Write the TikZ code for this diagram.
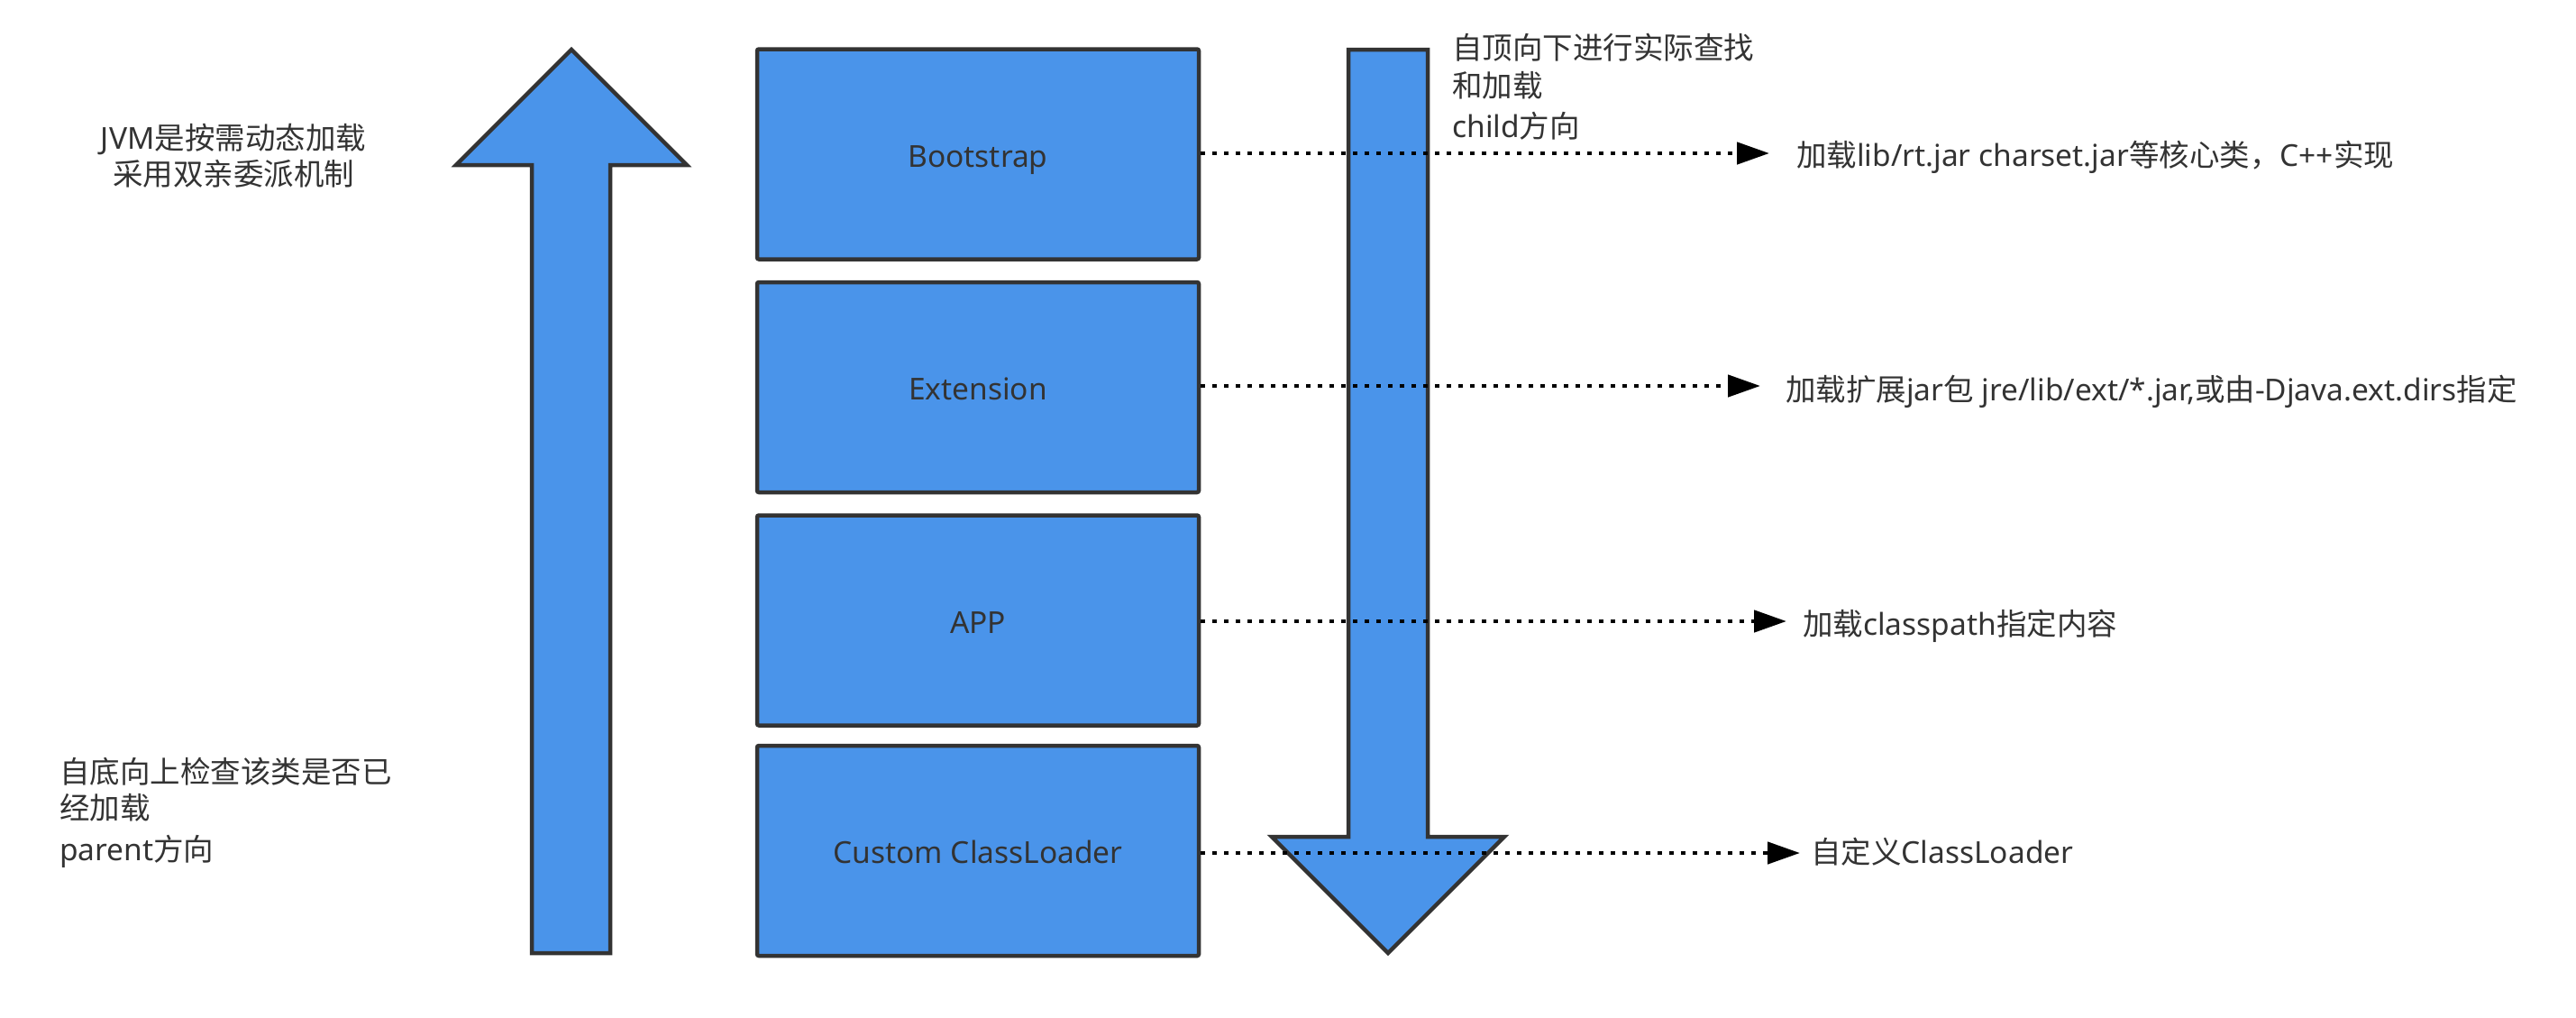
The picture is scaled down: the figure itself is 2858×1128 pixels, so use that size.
\documentclass[tikz,border=0pt]{standalone}
\usepackage{fontspec}
\setmainfont{Noto Sans}
\newfontfamily\cjk{Noto Sans CJK SC}
\usetikzlibrary{arrows.meta}
\definecolor{boxblue}{HTML}{4A94EA}
\definecolor{edgegray}{HTML}{333333}
\begin{document}
\begin{tikzpicture}[x=1pt,y=-1pt,
  loader/.style={draw=edgegray, fill=boxblue, line width=4.5pt, rounded corners=2pt,
    minimum width=490pt, minimum height=233pt, inner sep=0pt,
    text height=34pt, text depth=6pt,
    font=\fontsize{33.5}{40}\selectfont, text=edgegray},
  bigarrow/.style={draw=edgegray, fill=boxblue, line width=4.5pt, line join=miter},
  note/.style={inner sep=0pt, anchor=base west, font=\fontsize{33.5}{40}\selectfont, text=edgegray},
  link/.style={draw=black, line width=4.6pt, dash pattern=on 4.6pt off 8.4pt,
    -{Triangle[length=36pt,width=24pt]}}]
\fill[white] (0,0) rectangle (2858,1128);
\useasboundingbox (0,0) rectangle (2858,1128);

% up arrow (parent direction)
\draw[bigarrow] (634,55) -- (762,183) -- (677,183) -- (677,1057) -- (590,1057)
  -- (590,183) -- (506,183) -- cycle;
% down arrow (child direction)
\draw[bigarrow] (1540,1057) -- (1669,928) -- (1584,928) -- (1584,55) -- (1496,55)
  -- (1496,928) -- (1411,928) -- cycle;

% loader boxes
\node[loader] (boot) at (1085,171) {Bootstrap};
\node[loader] (ext)  at (1085,429.5) {Extension};
\node[loader] (app)  at (1085,688) {APP};
\node[loader] (cust) at (1085,943.5) {Custom ClassLoader};

% side notes
\node[note, anchor=base] (jvm1) at (259,165) {JVM{\cjk 是按需动态加载}};
\node[note, anchor=base] (jvm2) at (259,205) {\cjk 采用双亲委派机制};

\node[note] (up1) at (66,868) {\cjk 自底向上检查该类是否已};
\node[note] (up2) at (66,908) {\cjk 经加载};
\node[note] (up3) at (66,954) {parent{\cjk 方向}};

\node[note] (dn1) at (1611,65) {\cjk 自顶向下进行实际查找};
\node[note] (dn2) at (1611,107) {\cjk 和加载};
\node[note] (dn3) at (1611,152) {child{\cjk 方向}};

% descriptions
\node[note] (d1) at (1993,184.5) {{\cjk 加载}lib/rt.jar charset.jar{\cjk 等核心类，}C++{\cjk 实现}};
\node[note] (d2) at (1981,444) {{\cjk 加载扩展}jar{\cjk 包} jre/lib/ext/*.jar,{\cjk 或由}-Djava.ext.dirs{\cjk 指定}};
\node[note] (d3) at (2000,704) {{\cjk 加载}classpath{\cjk 指定内容}};
\node[note] (d4) at (2009,957.5) {{\cjk 自定义}ClassLoader};

% dotted connectors
\draw[link, shorten >=30pt] ([yshift=1pt]boot.east) -- ([yshift=1pt]boot.east -| d1.west);
\draw[link, shorten >=28pt] ([yshift=1.5pt]ext.east) -- ([yshift=1.5pt]ext.east -| d2.west);
\draw[link, shorten >=18pt] ([yshift=-1pt]app.east) -- ([yshift=-1pt]app.east -| d3.west);
\draw[link, shorten >=12pt] ([yshift=-2.5pt]cust.east) -- ([yshift=-2.5pt]cust.east -| d4.west);
\end{tikzpicture}
\end{document}
